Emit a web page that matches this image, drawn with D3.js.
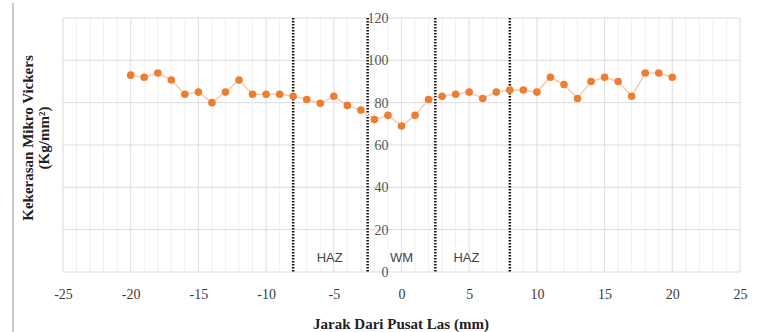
<!DOCTYPE html>
<html>
<head>
<meta charset="utf-8">
<script src="https://cdn.jsdelivr.net/npm/d3@7"></script>
<style>
  body { margin: 0; background: #fff; }
  svg { display: block; }
</style>
</head>
<body>
<svg id="svg" width="768" height="332"></svg>
<script>
// jarak dari pusat las (mm) dan kekerasan
var jarak = [-20, -19, -18, -17, -16, -15, -14, -13, -12, -11, -10, -9, -8, -7, -6, -5, -4, -3, -2, -1,
    0, 1, 2, 3, 4, 5, 6, 7, 8, 9, 10, 11, 12, 13, 14, 15, 16, 17, 18, 19, 20];
var kekerasan = [93, 92, 94, 90.7, 84, 85, 80, 85, 90.7, 84, 84, 84, 83, 81.5, 79.7, 83, 78.7, 76.5, 72, 74,
    69, 74, 81.5, 83, 84, 85, 82, 85, 86, 86, 85, 92, 88.6, 82, 90, 92, 90, 83, 94, 94, 92];
var batasZona = [-8, -2.5, 2.5, 8];
var zonaLabel = ['HAZ', 'WM', 'HAZ'];
var zonaPos = [-5.3, 0, 4.8];
var xTicks = [-25, -20, -15, -10, -5, 0, 5, 10, 15, 20, 25];
var yTicks = [0, 20, 40, 60, 80, 100, 120];

var svg = d3.select('#svg');
var scX = d3.scaleLinear().domain([-25, 25]).range([63, 740]);
var scY = d3.scaleLinear().domain([0, 120]).range([272, 18]);
var serif = '"Liberation Serif", "Times New Roman", serif';

// garis kiri halaman
svg.append('line')
    .attr('x1', 13).attr('x2', 13).attr('y1', 3).attr('y2', 332)
    .attr('stroke', '#b8b8b8').attr('stroke-width', 1.5);

// grid minor
svg.append('g')
    .selectAll('line').data(d3.range(-25, 26)).enter().append('line')
    .attr('x1', d => scX(d)).attr('x2', d => scX(d))
    .attr('y1', scY(120)).attr('y2', scY(0))
    .attr('stroke', '#f0f0f0').attr('stroke-width', 1);

// grid mayor
svg.append('g')
    .selectAll('line').data(xTicks).enter().append('line')
    .attr('x1', d => scX(d)).attr('x2', d => scX(d))
    .attr('y1', scY(120)).attr('y2', scY(0))
    .attr('stroke', '#e2e2e2').attr('stroke-width', 1);
svg.append('g')
    .selectAll('line').data(yTicks).enter().append('line')
    .attr('x1', scX(-25)).attr('x2', scX(25))
    .attr('y1', d => scY(d)).attr('y2', d => scY(d))
    .attr('stroke', '#dcdcdc').attr('stroke-width', 1);

// sumbu x
var axX = svg.append('g')
    .attr('transform', 'translate(0,' + scY(0) + ')')
    .call(d3.axisBottom(scX).tickValues(xTicks).tickSize(0).tickPadding(17)
        .tickFormat(d => d < 0 ? '-' + Math.abs(d) : d));
axX.select('.domain').remove();
axX.attr('font-family', serif).attr('font-size', 14);
axX.selectAll('text').attr('fill', '#3a3a3a');

// sumbu y (memotong di x = 0)
var axY = svg.append('g')
    .attr('transform', 'translate(' + scX(0) + ',0)')
    .call(d3.axisLeft(scY).tickValues(yTicks).tickSize(0).tickPadding(13));
axY.select('.domain').remove();
axY.attr('font-family', serif).attr('font-size', 14);
axY.selectAll('text').attr('fill', '#555');

// batas zona
svg.append('g')
    .selectAll('line').data(batasZona).enter().append('line')
    .attr('x1', d => scX(d)).attr('x2', d => scX(d))
    .attr('y1', scY(120)).attr('y2', scY(0))
    .attr('stroke', '#111').attr('stroke-width', 2.5)
    .attr('stroke-dasharray', '1.5,1.5');

svg.append('g')
    .selectAll('text').data(zonaLabel).enter().append('text')
    .attr('x', (d, i) => scX(zonaPos[i]))
    .attr('y', scY(7))
    .attr('dy', '0.35em')
    .attr('text-anchor', 'middle')
    .attr('font-family', '"Liberation Sans", Arial, sans-serif').attr('font-size', 13)
    .attr('fill', '#444')
    .text(d => d);

// data
var pts = jarak.map((d, i) => ({x: d, y: kekerasan[i]}));
var garis = d3.line().x(d => scX(d.x)).y(d => scY(d.y));
svg.append('path')
    .datum(pts)
    .attr('d', garis)
    .attr('fill', 'none')
    .attr('stroke', '#f8cbad').attr('stroke-width', 1.5);
svg.append('g')
    .selectAll('circle').data(pts).enter().append('circle')
    .attr('cx', d => scX(d.x)).attr('cy', d => scY(d.y))
    .attr('r', 3.8)
    .attr('fill', '#ed7d31');

// judul sumbu
svg.append('text')
    .attr('x', 401).attr('y', 329)
    .attr('text-anchor', 'middle')
    .attr('font-family', serif).attr('font-size', 15).attr('font-weight', 'bold')
    .attr('fill', '#222')
    .text('Jarak Dari Pusat Las (mm)');

var tY = svg.append('text')
    .attr('transform', 'translate(33,138) rotate(-90)')
    .attr('text-anchor', 'middle')
    .attr('font-family', serif).attr('font-size', 15).attr('font-weight', 'bold')
    .attr('fill', '#222');
tY.append('tspan').attr('x', 0).attr('y', 0).text('Kekerasan  Mikro Vickers');
tY.append('tspan').attr('x', 0).attr('y', 16).text('(Kg/mm²)');
</script>
</body>
</html>
